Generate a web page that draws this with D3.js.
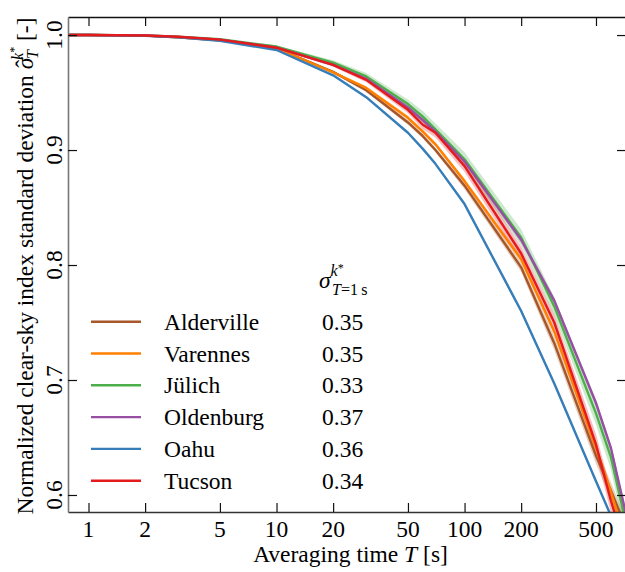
<!DOCTYPE html>
<html>
<head>
<meta charset="utf-8">
<script src="https://cdn.jsdelivr.net/npm/d3@7"></script>
</head>
<body style="margin:0">
<svg id="chart" width="625" height="572"></svg>
<script>
// ---- data ----
const T = [0.78, 1, 2, 3, 5, 10, 20, 30, 50, 60, 70, 100, 200, 300, 500, 600, 730];
const sites = ["Alderville", "Varennes", "Jülich", "Oldenburg", "Oahu", "Tucson"];
const sigma1s = ["0.35", "0.35", "0.33", "0.37", "0.36", "0.34"];
const colors = ["#a65628", "#ff7f00", "#4daf4a", "#984ea3", "#377eb8", "#e41a1c"];
const alderville = [1, 1, 0.9995, 0.998, 0.9955, 0.9885, 0.968, 0.952, 0.924, 0.912, 0.900, 0.869, 0.798, 0.732, 0.634, 0.604, 0.570];
const varennes   = [1, 1, 0.9995, 0.998, 0.9955, 0.9885, 0.9676, 0.954, 0.928, 0.916, 0.905, 0.873, 0.805, 0.742, 0.641, 0.603, 0.556];
const juelich    = [1, 1, 0.9997, 0.9985, 0.9963, 0.990, 0.976, 0.964, 0.940, 0.929, 0.918, 0.892, 0.824, 0.764, 0.671, 0.633, 0.572];
const oldenburg  = [1, 1, 0.9996, 0.9983, 0.996, 0.989, 0.974, 0.962, 0.937, 0.926, 0.916, 0.890, 0.822, 0.769, 0.680, 0.641, 0.580];
const oahu       = [1, 1, 0.9993, 0.998, 0.995, 0.987, 0.965, 0.946, 0.915, 0.901, 0.888, 0.853, 0.760, 0.697, 0.612, 0.582, 0.545];
const tucson     = [1, 1, 0.9996, 0.9985, 0.996, 0.989, 0.974, 0.961, 0.935, 0.922, 0.915, 0.886, 0.810, 0.750, 0.644, 0.595, 0.550];
// half-width of the shaded spread band around each curve
const spreadAlderville = [0, 0, 0, 0, 0, 0.001, 0.001, 0.0015, 0.002, 0.002, 0.002, 0.003, 0.004, 0.006, 0.007, 0.007, 0.007];
const spreadVarennes   = [0, 0, 0, 0, 0, 0.001, 0.001, 0.0015, 0.002, 0.002, 0.002, 0.002, 0.003, 0.003, 0.004, 0.004, 0.004];
const spreadJuelich    = [0, 0, 0, 0, 0, 0.001, 0.002, 0.003, 0.004, 0.005, 0.005, 0.006, 0.007, 0.008, 0.010, 0.011, 0.012];
const spreadOldenburg  = [0, 0, 0, 0, 0, 0.001, 0.001, 0.0015, 0.002, 0.002, 0.002, 0.002, 0.003, 0.003, 0.003, 0.003, 0.003];
const spreadOahu       = [0, 0, 0, 0, 0, 0.0005, 0.001, 0.001, 0.001, 0.001, 0.001, 0.0015, 0.002, 0.002, 0.002, 0.002, 0.002];
const spreadTucson     = [0, 0, 0, 0, 0, 0.001, 0.0015, 0.002, 0.003, 0.004, 0.004, 0.005, 0.006, 0.007, 0.009, 0.010, 0.010];
const xTicks = [1, 2, 5, 10, 20, 50, 100, 200, 500];
const yTicks = [0.6, 0.7, 0.8, 0.9, 1.0];

const seriesValues = [alderville, varennes, juelich, oldenburg, oahu, tucson];
const seriesSpread = [spreadAlderville, spreadVarennes, spreadJuelich, spreadOldenburg, spreadOahu, spreadTucson];

// ---- layout ----
const svg = d3.select("#chart");
const L = 68, R = 627, TOP = 17, B = 512;
const FS = 23.5;

const x = d3.scaleLog().domain([0.778, 731]).range([L, R]);
const y = d3.scaleLinear().domain([0.5852, 1.0157]).range([B, TOP]);

// helper: text with serif font set at creation
function addText(parent, size) {
  return parent.append("text")
    .attr("font-size", size)
    .style("font-family", '"Liberation Serif"')
    .attr("fill", "#000");
}

// plot viewport (nested svg clips the curves to the axes box)
const vp = svg.append("svg").attr("x", L).attr("y", TOP)
  .attr("width", R - L).attr("height", B - TOP).attr("overflow", "hidden");
const plot = vp.append("g").attr("transform", `translate(${-L},${-TOP})`);

sites.forEach((s, i) => {
  const pts = T.map((t, j) => ({t, v: seriesValues[i][j], d: seriesSpread[i][j]}));
  const area = d3.area().x(d => x(d.t)).y0(d => y(d.v - d.d)).y1(d => y(d.v + d.d));
  plot.append("path").attr("d", area(pts))
    .attr("fill", colors[i]).attr("fill-opacity", 0.28).attr("stroke", "none");
});
sites.forEach((s, i) => {
  const pts = T.map((t, j) => ({t, v: seriesValues[i][j]}));
  const line = d3.line().x(d => x(d.t)).y(d => y(d.v));
  plot.append("path").attr("d", line(pts))
    .attr("fill", "none").attr("stroke", colors[i]).attr("stroke-width", 2.4)
    .attr("stroke-linejoin", "round");
});

// ---- axes (ticks and spines) ----
const gB = svg.append("g").attr("transform", `translate(0,${B})`)
  .call(d3.axisBottom(x).tickValues(xTicks).tickFormat("").tickSizeInner(-9).tickSizeOuter(0));
const gT = svg.append("g").attr("transform", `translate(0,${TOP})`)
  .call(d3.axisTop(x).tickValues(xTicks).tickFormat("").tickSizeInner(-9).tickSizeOuter(0));
const gL = svg.append("g").attr("transform", `translate(${L},0)`)
  .call(d3.axisLeft(y).tickValues(yTicks).tickFormat("").tickSizeInner(-9).tickSizeOuter(0));
const gR = svg.append("g").attr("transform", `translate(${R - 1},0)`)
  .call(d3.axisRight(y).tickValues(yTicks).tickFormat("").tickSizeInner(-9).tickSizeOuter(0));

[gB, gT, gL, gR].forEach(g => {
  g.attr("font-family", null).attr("font-size", null);
  g.selectAll("text").remove();
  g.selectAll(".tick line").attr("stroke", "#111").attr("stroke-width", 1.2);
});
gT.select(".domain").attr("stroke", "#111").attr("stroke-width", 1.3);
gB.select(".domain").attr("stroke", "#333").attr("stroke-width", 1.5);
gL.select(".domain").attr("stroke", "#777").attr("stroke-width", 1.6);
gR.select(".domain").attr("stroke", "#111");

// x tick labels
xTicks.forEach(d => {
  addText(svg, FS).attr("x", x(d)).attr("y", 537).attr("text-anchor", "middle")
    .text(d3.format("d")(d));
});
// rotated y tick labels
yTicks.forEach(d => {
  addText(svg, FS).attr("transform", `translate(62,${y(d)}) rotate(-90)`)
    .attr("text-anchor", "middle").text(d3.format(".1f")(d));
});

// x label
const xl = addText(svg, FS).attr("x", (L + 625) / 2 + 4).attr("y", 562).attr("text-anchor", "middle");
xl.append("tspan").text("Averaging time ");
xl.append("tspan").attr("font-style", "italic").text("T");
xl.append("tspan").text(" [s]");

// y label
const yl = addText(svg, FS).attr("transform", "translate(33,266) rotate(-90)").attr("text-anchor", "middle");
yl.append("tspan").text("Normalized clear-sky index standard deviation ");
yl.append("tspan").attr("font-style", "italic").text("σ");
yl.append("tspan").attr("dx", -10).attr("dy", -1).text("\u02C6");
yl.append("tspan").attr("font-style", "italic").attr("font-size", 16).attr("dx", 1).attr("dy", 6).text("T");
yl.append("tspan").attr("font-style", "italic").attr("font-size", 16).attr("dx", -10).attr("dy", -15).text("k");
yl.append("tspan").attr("font-size", 12).attr("dy", -5).text("*");
yl.append("tspan").attr("dy", 15).text(" [-]");

// ---- legend ----
const legY0 = 321.7, legDy = 31.8;
sites.forEach((s, i) => {
  const yy = legY0 + i * legDy;
  svg.append("line").attr("x1", 91).attr("x2", 141).attr("y1", yy).attr("y2", yy)
    .attr("stroke", colors[i]).attr("stroke-width", 2.4);
  addText(svg, FS).attr("x", 164).attr("y", yy + 8).text(s);
  addText(svg, FS).attr("x", 322).attr("y", yy + 8).text(sigma1s[i]);
});
const hdr = addText(svg, FS).attr("x", 319).attr("y", 288);
hdr.append("tspan").attr("font-style", "italic").text("σ");
hdr.append("tspan").attr("font-style", "italic").attr("font-size", 16).attr("dy", -12).text("k");
hdr.append("tspan").attr("font-size", 12).attr("dy", -4).text("*");
const sub = addText(svg, 16).attr("x", 332).attr("y", 295);
sub.append("tspan").attr("font-style", "italic").text("T");
sub.append("tspan").text("=1\u2009s");
</script>
</body>
</html>
